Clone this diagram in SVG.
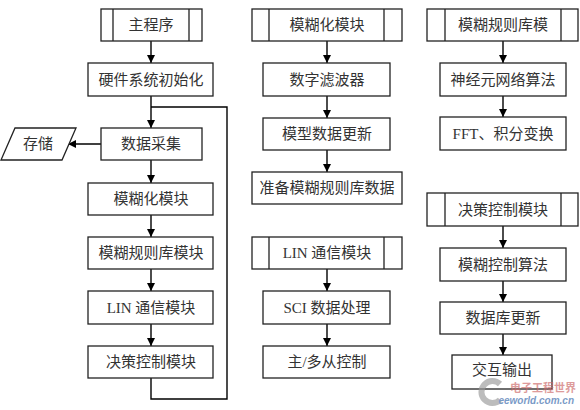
<svg xmlns="http://www.w3.org/2000/svg" width="580" height="410" viewBox="0 0 580 410">
<defs>
<marker id="ah" viewBox="0 0 10 10" refX="10" refY="5" markerWidth="8" markerHeight="8" markerUnits="userSpaceOnUse" orient="auto">
<path d="M0,0 L10,5 L0,10 Z" fill="#000"/>
</marker>
<style>
.b{fill:#fff;stroke:#222;stroke-width:1.3}
.t{font-family:"Liberation Serif","Noto Sans CJK SC",serif;font-size:15px;fill:#333;text-anchor:middle;dominant-baseline:central}
.c{fill:none;stroke:#000;stroke-width:1.4}
.a{fill:none;stroke:#000;stroke-width:1.4;marker-end:url(#ah)}
.s{fill:none;stroke:#222;stroke-width:1.3}
</style>
</defs>
<rect width="580" height="410" fill="#fff"/>
<g id="connectors">
<path class="a" d="M151,41 V63"/>
<path class="a" d="M151,96 V128"/>
<path class="a" d="M101,144 H68"/>
<path class="a" d="M151,160 V183"/>
<path class="a" d="M151,215 V237"/>
<path class="a" d="M151,269 V291"/>
<path class="a" d="M151,324 V346"/>
<path class="c" d="M151,378 V399 H227 V107 H151"/>
<path class="a" d="M327,41 V63"/>
<path class="a" d="M327,96 V118"/>
<path class="a" d="M327,150 V172"/>
<path class="a" d="M327,269 V291"/>
<path class="a" d="M327,324 V346"/>
<path class="a" d="M503,41 V63"/>
<path class="a" d="M503,96 V117"/>
<path class="a" d="M503,226 V248"/>
<path class="a" d="M503,281 V302"/>
<path class="a" d="M503,334 V355"/>
</g>
<g id="main">
<rect class="b" x="101" y="9" width="101" height="32"/>
<path class="s" d="M113,9 V41 M189,9 V41"/>
<text class="t" x="151" y="25">主程序</text>
</g>
<g id="hwinit"><rect class="b" x="88" y="63" width="125" height="33"/><text class="t" x="151" y="80">硬件系统初始化</text></g>
<g id="collect"><rect class="b" x="101" y="128" width="101" height="32"/><text class="t" x="151" y="144">数据采集</text></g>
<g id="store"><path class="b" d="M15,128 H76 L62,160 H1 Z"/><text class="t" x="38" y="144">存储</text></g>
<g id="fuzz1"><rect class="b" x="88" y="183" width="125" height="32"/><text class="t" x="151" y="199">模糊化模块</text></g>
<g id="rule1"><rect class="b" x="88" y="237" width="125" height="32"/><text class="t" x="151" y="253">模糊规则库模块</text></g>
<g id="lin1"><rect class="b" x="88" y="291" width="125" height="33"/><text class="t" x="151" y="308">LIN 通信模块</text></g>
<g id="dec1"><rect class="b" x="88" y="346" width="125" height="32"/><text class="t" x="151" y="362">决策控制模块</text></g>

<g id="fuzz2">
<rect class="b" x="252" y="9" width="150" height="32"/>
<path class="s" d="M269,9 V41 M384,9 V41"/>
<text class="t" x="327" y="25">模糊化模块</text>
</g>
<g id="filter"><rect class="b" x="263" y="63" width="127" height="33"/><text class="t" x="327" y="80">数字滤波器</text></g>
<g id="model"><rect class="b" x="263" y="118" width="127" height="32"/><text class="t" x="327" y="134">模型数据更新</text></g>
<g id="prep"><rect class="b" x="252" y="172" width="150" height="32"/><text class="t" x="327" y="188">准备模糊规则库数据</text></g>
<g id="lin2">
<rect class="b" x="252" y="237" width="150" height="32"/>
<path class="s" d="M269,237 V269 M384,237 V269"/>
<text class="t" x="327" y="253">LIN 通信模块</text>
</g>
<g id="sci"><rect class="b" x="263" y="291" width="127" height="33"/><text class="t" x="327" y="308">SCI 数据处理</text></g>
<g id="ms"><rect class="b" x="263" y="346" width="127" height="32"/><text class="t" x="327" y="362">主/多从控制</text></g>

<g id="rule3">
<rect class="b" x="427" y="9" width="151" height="32"/>
<path class="s" d="M445,9 V41 M561,9 V41"/>
<text class="t" x="503" y="25">模糊规则库模</text>
</g>
<g id="nn"><rect class="b" x="440" y="63" width="126" height="33"/><text class="t" x="503" y="80">神经元网络算法</text></g>
<g id="fft"><rect class="b" x="440" y="117" width="126" height="33"/><text class="t" x="503" y="134">FFT、积分变换</text></g>
<g id="dec3">
<rect class="b" x="427" y="193" width="151" height="33"/>
<path class="s" d="M445,193 V226 M561,193 V226"/>
<text class="t" x="503" y="210">决策控制模块</text>
</g>
<g id="fctl"><rect class="b" x="440" y="248" width="126" height="33"/><text class="t" x="503" y="265">模糊控制算法</text></g>
<g id="db"><rect class="b" x="440" y="302" width="126" height="32"/><text class="t" x="503" y="318">数据库更新</text></g>
<g id="io"><rect class="b" x="452" y="355" width="100" height="34"/><text class="t" x="502" y="370">交互输出</text></g>

<g id="watermark" opacity="0.65">
<path d="M500,384 A11,11 0 1 0 500,400" fill="none" stroke="#999" stroke-width="6"/>
<text x="576" y="392" font-family="'Noto Sans CJK SC',sans-serif" font-size="11" font-weight="bold" fill="#c66" text-anchor="end">电子工程世界</text>
<text x="574" y="404" font-family="'Liberation Sans',sans-serif" font-size="10" font-style="italic" font-weight="bold" fill="#36a" text-anchor="end">eeworld.com.cn</text>
</g>
</svg>
